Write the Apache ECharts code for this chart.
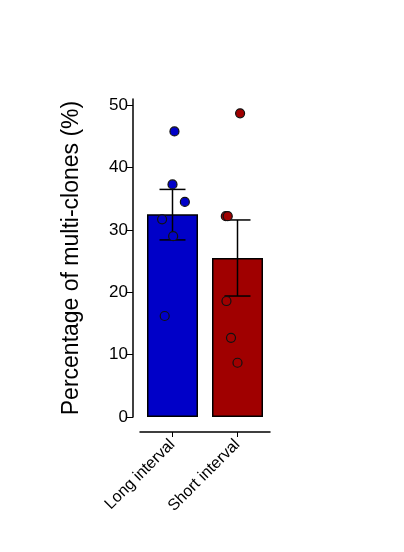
<!DOCTYPE html>
<html><head><meta charset="utf-8">
<script src="https://cdn.jsdelivr.net/npm/echarts@6/dist/echarts.min.js"></script>
<style>html,body{margin:0;background:#fff}#c{width:404px;height:552px}</style>
</head><body><div id="c"></div>
<script>
const categories = ['Long interval', 'Short interval'];
const means = [32.5, 25.5];
const errLow = [28.4, 19.4];
const errHigh = [36.5, 31.6];
const colors = ['#0000c8', '#a00000'];
const longPoints = [[0.03, 45.8], [0.0, 37.3], [0.19, 34.5], [-0.16, 31.7], [0.01, 29.0], [-0.12, 16.2]];
const shortPoints = [[1.04, 48.7], [0.82, 32.2], [0.85, 32.2], [0.83, 18.6], [0.9, 12.7], [1.0, 8.7]];

const chart = echarts.init(document.getElementById('c'));
chart.setOption({
  animation: false,
  grid: {left: 140, top: 99, width: 130, height: 318},
  xAxis: [{
    type: 'category', data: categories, offset: 15,
    axisLine: {onZero: false, lineStyle: {color: '#000', width: 1.5}},
    axisTick: {show: true, alignWithLabel: true, length: 5, lineStyle: {color: '#000'}},
    axisLabel: {rotate: 45, color: '#000', fontSize: 16, fontFamily: 'Liberation Sans', margin: 10}
  }, {
    type: 'value', min: -0.5, max: 1.5, show: false
  }],
  yAxis: {
    type: 'value', min: 0, max: 51, interval: 10, offset: 7,
    name: 'Percentage of multi-clones (%)', nameLocation: 'middle', nameGap: 50,
    nameTextStyle: {fontSize: 23, color: '#000', fontFamily: 'Liberation Sans'},
    axisLine: {show: true, onZero: false, lineStyle: {color: '#000', width: 1.5}},
    axisTick: {show: true, length: 6, lineStyle: {color: '#000'}},
    axisLabel: {color: '#000', fontSize: 17, fontFamily: 'Liberation Sans', margin: 5},
    splitLine: {show: false}
  },
  series: [{
    type: 'bar', barWidth: 51,
    data: means.map((v, i) => ({value: v, itemStyle: {color: colors[i], borderColor: '#000', borderWidth: 1.5}}))
  }, {
    type: 'custom', z: 5,
    data: categories.map((c, i) => [i, errLow[i], errHigh[i]]),
    renderItem: (params, api) => {
      const lo = api.coord([api.value(0), api.value(1)]);
      const hi = api.coord([api.value(0), api.value(2)]);
      const w = 13;
      const s = {stroke: '#000', lineWidth: 1.5};
      return {type: 'group', children: [
        {type: 'line', shape: {x1: lo[0], y1: lo[1], x2: hi[0], y2: hi[1]}, style: s},
        {type: 'line', shape: {x1: lo[0]-w, y1: lo[1], x2: lo[0]+w, y2: lo[1]}, style: s},
        {type: 'line', shape: {x1: hi[0]-w, y1: hi[1], x2: hi[0]+w, y2: hi[1]}, style: s}
      ]};
    }
  }, {
    type: 'scatter', xAxisIndex: 1, z: 6, symbolSize: 9, data: longPoints,
    itemStyle: {color: colors[0], opacity: 1, borderColor: '#111', borderWidth: 1.2}
  }, {
    type: 'scatter', xAxisIndex: 1, z: 6, symbolSize: 9, data: shortPoints,
    itemStyle: {color: colors[1], opacity: 1, borderColor: '#111', borderWidth: 1.2}
  }]
});
</script></body></html>
